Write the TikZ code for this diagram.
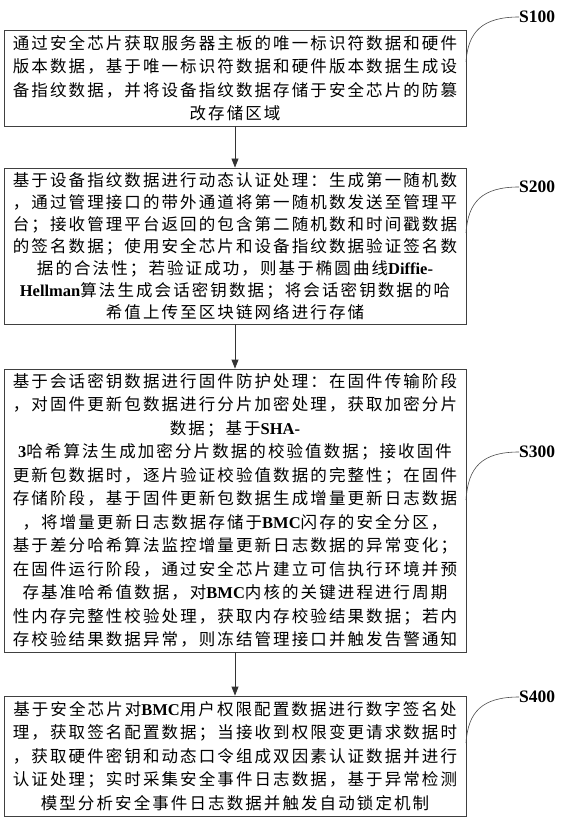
\documentclass[tikz,border=0pt]{standalone}
\usepackage{fontspec}
\setmainfont{Noto Sans CJK SC}
\newfontfamily\cjk[LetterSpace=12.7]{Noto Sans CJK SC}
\newfontfamily\lat{Liberation Serif}
\usetikzlibrary{arrows.meta}
\newcommand{\latb}[1]{{\lat\bfseries #1}}
\tikzset{
  box/.style={draw=black!75, line width=0.9pt, inner sep=0pt, minimum width=462pt,
    align=center, font=\cjk\fontsize{16.5}{23.5}\selectfont},
  boxtight/.style={box, font=\cjk\fontsize{16.5}{22}\selectfont},
  lbl/.style={anchor=west, inner sep=0pt, font=\lat\bfseries\fontsize{17.5}{19}\selectfont},
  lead/.style={draw=black!70, line width=0.6pt},
  flow/.style={draw=black!80, line width=0.9pt, -{Triangle[length=9pt,width=7pt]}}
}
\begin{document}
\begin{tikzpicture}[x=1pt,y=-1pt]
\useasboundingbox[fill=white] (0,0) rectangle (560,818);

\node[box, minimum height=96pt] (b1) at (235,78) {通过安全芯片获取服务器主板的唯一标识符数据和硬件\\版本数据，基于唯一标识符数据和硬件版本数据生成设\\备指纹数据，并将设备指纹数据存储于安全芯片的防篡\\改存储区域};

\node[boxtight, minimum height=156pt] (b2) at (235,246) {基于设备指纹数据进行动态认证处理：生成第一随机数\\，通过管理接口的带外通道将第一随机数发送至管理平\\台；接收管理平台返回的包含第二随机数和时间戳数据\\的签名数据；使用安全芯片和设备指纹数据验证签名数\\据的合法性；若验证成功，则基于椭圆曲线\latb{Diffie-}\\\latb{Hellman}算法生成会话密钥数据；将会话密钥数据的哈\\希值上传至区块链网络进行存储};

\node[box, minimum height=283pt] (b3) at (235,510.5) {基于会话密钥数据进行固件防护处理：在固件传输阶段\\，对固件更新包数据进行分片加密处理，获取加密分片\\数据；基于\latb{SHA-}\\\latb{3}哈希算法生成加密分片数据的校验值数据；接收固件\\更新包数据时，逐片验证校验值数据的完整性；在固件\\存储阶段，基于固件更新包数据生成增量更新日志数据\\，将增量更新日志数据存储于\latb{BMC}闪存的安全分区，\\基于差分哈希算法监控增量更新日志数据的异常变化；\\在固件运行阶段，通过安全芯片建立可信执行环境并预\\存基准哈希值数据，对\latb{BMC}内核的关键进程进行周期\\性内存完整性校验处理，获取内存校验结果数据；若内\\存校验结果数据异常，则冻结管理接口并触发告警通知};

\node[box, minimum height=120pt] (b4) at (235,756) {基于安全芯片对\latb{BMC}用户权限配置数据进行数字签名处\\理，获取签名配置数据；当接收到权限变更请求数据时\\，获取硬件密钥和动态口令组成双因素认证数据并进行\\认证处理；实时采集安全事件日志数据，基于异常检测\\模型分析安全事件日志数据并触发自动锁定机制};

\draw[flow] (b1.south) -- (b2.north);
\draw[flow] (b2.south) -- (b3.north);
\draw[flow] (b3.south) -- (b4.north);

\node[lbl] (s100) at (519,17) {S100};
\node[lbl] (s200) at (519,187) {S200};
\node[lbl] (s300) at (519,452) {S300};
\node[lbl] (s400) at (519,697) {S400};

\coordinate (c1) at (466,62);
\coordinate (c2) at (466,233);
\coordinate (c3) at (466,500);
\coordinate (c4) at (466,743);

\draw[lead] (c1) .. controls (468,32) and (482,17) .. (s100.west);
\draw[lead] (c2) .. controls (468,202) and (482,187) .. (s200.west);
\draw[lead] (c3) .. controls (468,467) and (482,452) .. (s300.west);
\draw[lead] (c4) .. controls (468,712) and (482,697) .. (s400.west);
\end{tikzpicture}
\end{document}
